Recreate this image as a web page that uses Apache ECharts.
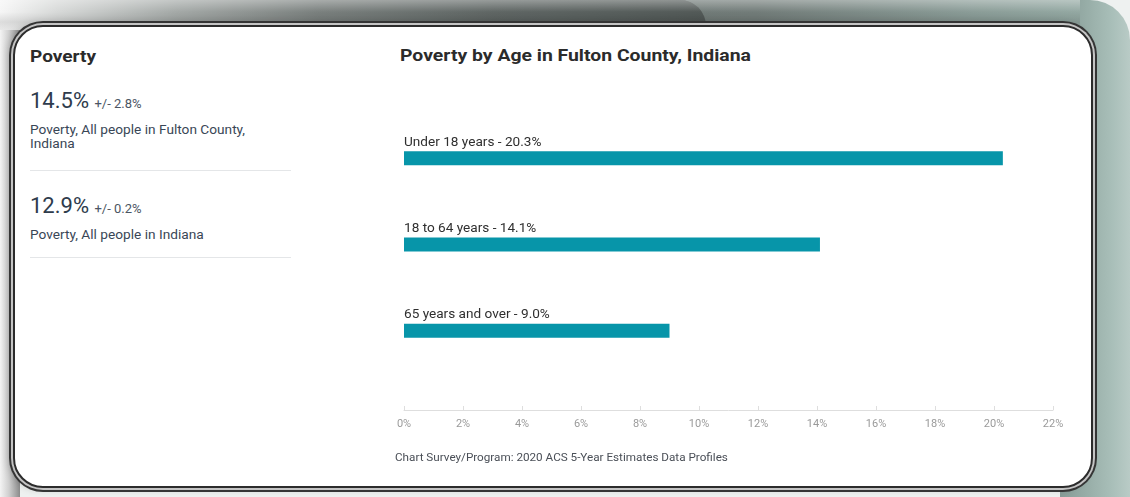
<!DOCTYPE html>
<html>
<head>
<meta charset="utf-8">
<script src="https://cdn.jsdelivr.net/npm/echarts@6/dist/echarts.min.js"></script>
<style>
  html, body { margin: 0; padding: 0; }
  body {
    width: 1130px; height: 497px; position: relative; overflow: hidden;
    background: #eef1f0;
    font-family: Roboto, "Noto Sans", sans-serif;
  }
  .slab-right {
    position: absolute; left: 1060px; top: 0; right: 0; bottom: 0;
    border-top-right-radius: 40px;
    background: linear-gradient(to right, #869b96 0%, #98aea8 40%, #a9bfb9 75%, #b9cbc6 100%);
  }
  .slab-top {
    position: absolute; left: 0; top: 0; width: 1080px; height: 40px;
    background: linear-gradient(to right, #6a716f 0%, #727c79 70%, #8a9c97 90%, #93a8a2 100%);
  }
  .slab-top::after, .tab::after {
    content: ""; position: absolute; left: 0; right: 0; top: 0; height: 40px;
    background: linear-gradient(to bottom, rgba(255,255,255,0.35) 0%, rgba(255,255,255,0) 30%, rgba(0,0,0,0.10) 55%, rgba(255,255,255,0.12) 100%);
    border-radius: inherit;
  }
  .tab {
    position: absolute; left: 0; top: 0; width: 706px; height: 40px;
    border-top-right-radius: 26px;
    background: linear-gradient(to right, #f6f6f6 0%, #d7d9d8 8%, #a4a9a7 25%, #7a807e 45%, #5f6664 70%, #525957 100%);
  }
  .slab-left {
    position: absolute; left: 0; top: 30px; width: 20px; bottom: 0;
    background: linear-gradient(to right, #f4f4f4 0%, #cfcfcf 45%, #8b8b8b 100%);
  }
  .panel {
    position: absolute; left: 13px; top: 25px; width: 1080px; height: 463px;
    box-sizing: border-box;
    border: 2px solid #2c2c2c;
    border-radius: 30px;
    background: #fff;
    box-shadow: 0 0 0 2px #c4c4c4, 0 0 0 4px #353535, -4px 0 8px rgba(0,0,0,0.25);
  }
  .side { position: absolute; left: 30px; color: #333; transform-origin: 0 0; }
  .side-title { top: 46px; font-size: 17px; font-weight: 700; color: #2b2b2b; transform: scaleX(1.12); }
  .big { font-size: 22px; color: #2e3b4c; line-height: 26px; }
  .big small { font-size: 13px; color: #4b5563; }
  .desc { font-size: 12px; color: #394656; line-height: 14px; width: 195px; transform: scaleX(1.14); }
  .rule { position: absolute; left: 30px; width: 261px; height: 1px; background: #e4e6e8; }
  .chart-title {
    position: absolute; left: 400px; top: 45px; font-size: 17px; font-weight: 700;
    color: #2b2b2b; transform: scaleX(1.14); transform-origin: 0 0; white-space: nowrap;
  }
  #chart { position: absolute; left: 0; top: 0; width: 1130px; height: 497px; }
</style>
</head>
<body>
  <div class="slab-right"></div>
  <div class="slab-top"></div>
  <div class="tab"></div>
  <div class="slab-left"></div>
  <div class="panel"></div>

  <div class="side side-title">Poverty</div>
  <div class="side big" style="top:88px">14.5% <small>+/- 2.8%</small></div>
  <div class="side desc" style="top:123px">Poverty, All people in Fulton County, Indiana</div>
  <div class="rule" style="top:170px"></div>
  <div class="side big" style="top:193px">12.9% <small>+/- 0.2%</small></div>
  <div class="side desc" style="top:228px">Poverty, All people in Indiana</div>
  <div class="rule" style="top:257px"></div>

  <div class="chart-title">Poverty by Age in Fulton County, Indiana</div>
  <div id="chart"></div>

<script>
// Poverty rate by age group, Fulton County, Indiana
const categories = ['Under 18 years', '18 to 64 years', '65 years and over'];
const povertyRates = [20.3, 14.1, 9.0];
const tickValues = [0, 2, 4, 6, 8, 10, 12, 14, 16, 18, 20, 22];

const chart = echarts.init(document.getElementById('chart'), null, { renderer: 'canvas' });

chart.setOption({
  backgroundColor: 'transparent',
  animation: false,
  graphic: [{
    type: 'text',
    left: 395,
    top: 452,
    style: {
      text: 'Chart Survey/Program: 2020 ACS 5-Year Estimates Data Profiles',
      fontFamily: 'Roboto',
      fontSize: 11.7,
      fill: '#4a4f57'
    }
  }],
  grid: { left: 404, right: 77, top: 115, height: 259, containLabel: false },
  xAxis: {
    type: 'value',
    min: tickValues[0],
    max: tickValues[tickValues.length - 1],
    interval: 2,
    offset: 36,
    axisLine: { show: true, lineStyle: { color: '#dedede', width: 1 } },
    axisTick: { show: true, inside: true, length: 4, lineStyle: { color: '#dedede' } },
    splitLine: { show: false },
    axisLabel: {
      formatter: '{value}%',
      fontFamily: 'Roboto',
      fontSize: 11,
      color: '#9a9a9a',
      margin: 9
    }
  },
  yAxis: {
    type: 'category',
    inverse: true,
    data: categories,
    show: false
  },
  series: [{
    type: 'bar',
    data: povertyRates,
    barWidth: 14,
    itemStyle: { color: '#0795a9' },
    label: {
      show: true,
      position: [0, -2],
      align: 'left',
      verticalAlign: 'bottom',
      fontFamily: 'Roboto',
      fontSize: 13.6,
      color: '#2f2f2f',
      formatter: p => categories[p.dataIndex] + ' - ' + p.value.toFixed(1) + '%'
    }
  }]
});
</script>
</body>
</html>
